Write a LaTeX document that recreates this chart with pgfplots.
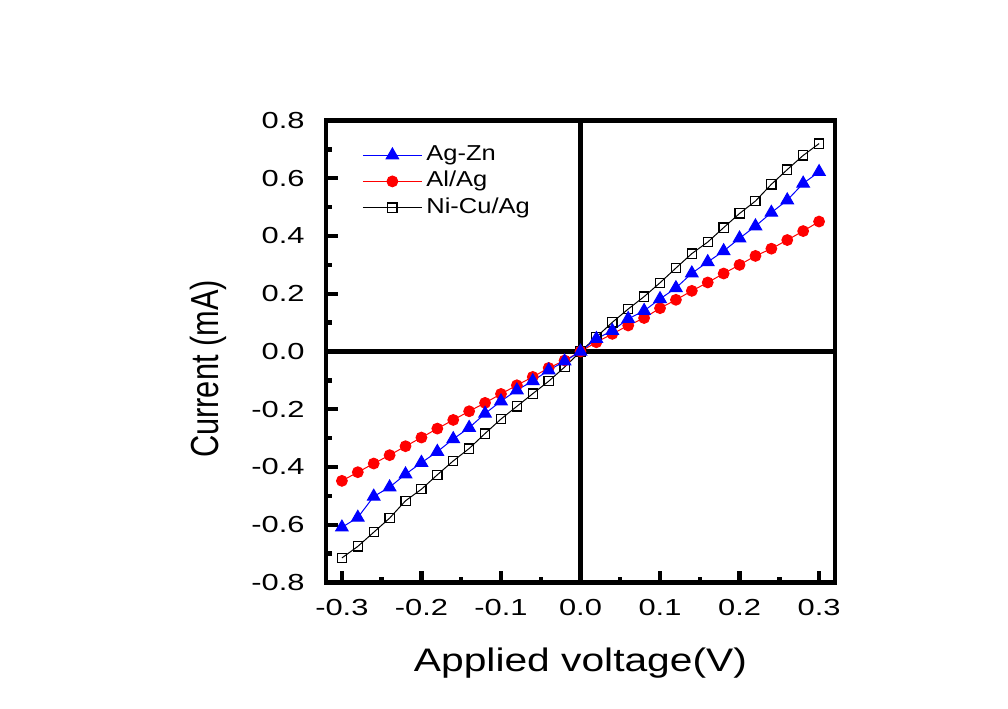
\documentclass[border=0pt]{standalone}
\usepackage{fontspec}
\setmainfont{Liberation Sans}
\usepackage{graphicx}
\usepackage{pgfplots}
\pgfplotsset{compat=1.18}
\definecolor{agzn}{RGB}{0,0,255}
\definecolor{alag}{RGB}{255,0,0}

% I-V curves, step 0.02 V
\pgfplotstableread{
V      I
-0.30 -0.715
-0.28 -0.675
-0.26 -0.626
-0.24 -0.577
-0.22 -0.517
-0.20 -0.477
-0.18 -0.427
-0.16 -0.379
-0.14 -0.336
-0.12 -0.284
-0.10 -0.234
-0.08 -0.190
-0.06 -0.146
-0.04 -0.103
-0.02 -0.054
0.00  0.000
0.02  0.050
0.04  0.101
0.06  0.147
0.08  0.190
0.10  0.238
0.12  0.289
0.14  0.339
0.16  0.379
0.18  0.429
0.20  0.478
0.22  0.521
0.24  0.579
0.26  0.630
0.28  0.679
0.30  0.720
}\nicuag
\pgfplotstableread{
V      I
-0.30 -0.609
-0.28 -0.575
-0.26 -0.502
-0.24 -0.470
-0.22 -0.425
-0.20 -0.385
-0.18 -0.347
-0.16 -0.303
-0.14 -0.264
-0.12 -0.215
-0.10 -0.172
-0.08 -0.134
-0.06 -0.102
-0.04 -0.065
-0.02 -0.034
0.00  0.000
0.02  0.044
0.04  0.072
0.06  0.113
0.08  0.141
0.10  0.182
0.12  0.220
0.14  0.271
0.16  0.310
0.18  0.348
0.20  0.392
0.22  0.434
0.24  0.481
0.26  0.524
0.28  0.582
0.30  0.622
}\agzn
\pgfplotstableread{
V      I
-0.30 -0.448
-0.28 -0.418
-0.26 -0.388
-0.24 -0.359
-0.22 -0.328
-0.20 -0.298
-0.18 -0.267
-0.16 -0.237
-0.14 -0.207
-0.12 -0.178
-0.10 -0.147
-0.08 -0.117
-0.06 -0.088
-0.04 -0.057
-0.02 -0.031
0.00  0.000
0.02  0.032
0.04  0.061
0.06  0.090
0.08  0.116
0.10  0.150
0.12  0.179
0.14  0.210
0.16  0.239
0.18  0.270
0.20  0.300
0.22  0.331
0.24  0.356
0.26  0.386
0.28  0.417
0.30  0.450
}\alag

\begin{document}
\begin{tikzpicture}
\begin{axis}[
  scale only axis, width=254.5pt, height=231pt,
  xmin=-0.32, xmax=0.32, ymin=-0.8, ymax=0.8,
  xtick={-0.3,-0.2,-0.1,0,0.1,0.2,0.3},
  ytick={-0.8,-0.6,-0.4,-0.2,0,0.2,0.4,0.6,0.8},
  minor xtick={-0.25,-0.15,-0.05,0.05,0.15,0.25},
  minor ytick={-0.7,-0.5,-0.3,-0.1,0.1,0.3,0.5,0.7},
  tick pos=left, tick align=inside,
  major tick length=6pt, minor tick length=3pt,
  every tick/.style={black, line width=2.2pt},
  axis line style={line width=2.4pt, line cap=rect},
  /pgf/number format/assume math mode=true,
  xticklabel={\scalebox{1.33}[1]{\pgfmathprintnumber[fixed,fixed zerofill,precision=1]{\tick}}},
  yticklabel={\scalebox{1.33}[1]{\pgfmathprintnumber[fixed,fixed zerofill,precision=1]{\tick}}},
  tick label style={font=\fontsize{11.6}{13}\selectfont, inner sep=0pt},
  xticklabel style={anchor=north, yshift=-8.25pt},
  yticklabel style={anchor=east, xshift=-10.5pt},
  xlabel={\scalebox{1.25}[1]{Applied voltage(V)}},
  ylabel={\scalebox{1}[1.27]{Current (mA)}},
  xlabel style={font=\fontsize{16.3}{19}\selectfont, at={(axis description cs:0.5,0)}, anchor=base, yshift=-44.6pt},
  ylabel style={font=\fontsize{15.4}{18}\selectfont, at={(axis description cs:0,0.5)}, anchor=center, yshift=59pt, xshift=-8.75pt},
  legend image code/.code={\draw[mark repeat=2,mark phase=2] plot coordinates {(0pt,0pt) (14.75pt,0pt) (29.5pt,0pt)};},
  reverse legend,
  legend style={draw=none, fill=none, font=\fontsize{10.8}{12}\selectfont,
    at={(axis description cs:0,1)}, anchor=north west, xshift=15pt, yshift=-9.9pt,
    nodes={inner sep=0pt, text height=8pt, text depth=2.5pt}, row sep=2.6pt, column sep=2pt,
    cells={anchor=west}},
]
% zero lines
\addplot[black, line width=2.4pt, forget plot] coordinates {(0,-0.8) (0,0.8)};
\addplot[black, line width=2.4pt, forget plot] coordinates {(-0.32,0) (0.32,0)};
\addplot[black, line width=0.5pt, mark=square, mark size=2.3pt, mark options={fill=white, solid, line width=0.6pt}] table[x=V, y=I] {\nicuag};
\addlegendentry{\scalebox{1.18}[1]{Ni-Cu/Ag}}
\addplot[alag, line width=0.5pt, mark=*, mark size=2.7pt] table[x=V, y=I] {\alag};
\addlegendentry{\scalebox{1.18}[1]{Al/Ag}}
\addplot[agzn, line width=0.5pt, mark=triangle*, mark size=3.6pt] table[x=V, y=I] {\agzn};
\addlegendentry{\scalebox{1.18}[1]{Ag-Zn}}
% long ticks at the labelled values
\pgfplotsinvokeforeach{-0.3,-0.2,-0.1,0.1,0.2,0.3}{
  \draw[black, line width=2.2pt] (axis cs:#1,-0.8) -- ++(0pt,6pt);
}
\pgfplotsinvokeforeach{-0.8,-0.6,-0.4,-0.2,0.2,0.4,0.6,0.8}{
  \draw[black, line width=2.2pt] (axis cs:-0.32,#1) -- ++(6pt,0pt);
}
\end{axis}
\pgfresetboundingbox
\path[use as bounding box] (current axis.south west) ++(-163pt,-62.75pt) rectangle ++(504pt,354pt);
\end{tikzpicture}
\end{document}
